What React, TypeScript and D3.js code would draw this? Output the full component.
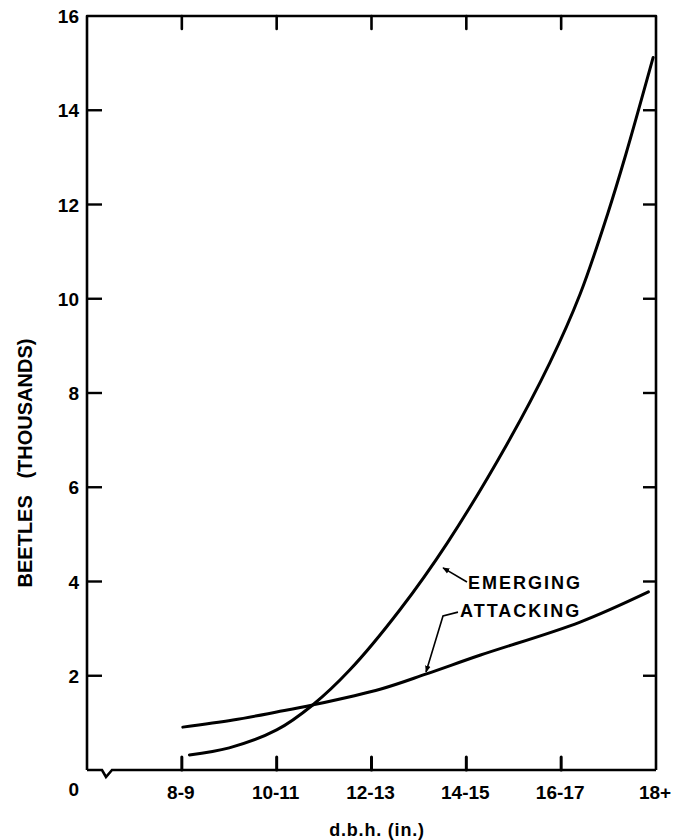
import React from "react";
import * as d3 from "d3";

// Category labels on the x axis (positions 1..6 in category units, 0 = left axis)
const categories = ["8-9", "10-11", "12-13", "14-15", "16-17", "18+"];
const categoryPos = [1, 2, 3, 4, 5, 6];
const yTicks = [2, 4, 6, 8, 10, 12, 14, 16];

// Emerging beetles (thousands)
const emergingX = [1.08, 1.5, 2.0, 2.38, 2.77, 3.3, 3.8, 4.43, 4.88, 5.2, 5.49, 5.68, 5.97];
const emergingY = [0.32, 0.47, 0.85, 1.38, 2.12, 3.4, 4.82, 6.92, 8.64, 10.1, 11.8, 13.05, 15.12];

// Attacking beetles (thousands)
const attackingX = [1.01, 1.54, 2.0, 2.38, 3.1, 3.58, 4.15, 5.2, 5.92];
const attackingY = [0.91, 1.06, 1.23, 1.38, 1.72, 2.04, 2.44, 3.14, 3.78];

// Annotation anchors (data units)
const emergingLeader = [[3.754, 4.29], [4.007, 3.99]];
const emergingLabelAt = [4.018, 3.84];
const attackingLeader = [[3.575, 2.08], [3.754, 3.27], [3.912, 3.35]];
const attackingLabelAt = [3.933, 3.25];

const FONT = "'Liberation Sans', Arial, Helvetica, sans-serif";

export default function App() {
  const W = 680, H = 840;
  const x = d3.scaleLinear().domain([0, 6]).range([87, 656]);
  const y = d3.scaleLinear().domain([0, 16]).range([770, 16]);
  const line = d3
    .line<number[]>()
    .x((d) => x(d[0]))
    .y((d) => y(d[1]))
    .curve(d3.curveCatmullRom.alpha(0.5));
  const straight = d3
    .line<number[]>()
    .x((d) => x(d[0]))
    .y((d) => y(d[1]));

  const emerging = emergingX.map((v, i) => [v, emergingY[i]]);
  const attacking = attackingX.map((v, i) => [v, attackingY[i]]);

  const x0 = x(0), x1 = x(6), y0 = y(0), y1 = y(16);
  const bottom = `M${x0},${y0} L${x0 + 15},${y0} L${x0 + 19},${y0 + 7} L${x0 + 25},${y0} L${x1},${y0}`;

  return (
    <svg
      width={W}
      height={H}
      viewBox={`0 0 ${W} ${H}`}
      style={{ position: "absolute", left: 0, top: 0, background: "#fff" }}
    >
      <defs>
        <marker id="ah" viewBox="0 0 10 10" refX="9" refY="5" markerWidth="7" markerHeight="7" orient="auto-start-reverse" markerUnits="userSpaceOnUse">
          <path d="M0,1 L10,5 L0,9 Z" fill="#000" />
        </marker>
      </defs>
      <rect x={0} y={0} width={W} height={H} fill="#fff" />
      {/* frame */}
      <path d={`M${x0},${y0} L${x0},${y1} L${x1},${y1} L${x1},${y0}`} fill="none" stroke="#000" strokeWidth={2.6} strokeLinejoin="round" />
      <path d={bottom} fill="none" stroke="#000" strokeWidth={2.6} strokeLinejoin="miter" />

      {/* left & right ticks */}
      {yTicks.filter((t) => t < 16).map((t) => (
        <g key={"yt" + t}>
          <line x1={x0} x2={x0 + 15} y1={y(t)} y2={y(t)} stroke="#000" strokeWidth={2.4} />
          <line x1={x1 - 13} x2={x1} y1={y(t)} y2={y(t)} stroke="#000" strokeWidth={2.4} />
        </g>
      ))}
      {/* top & bottom ticks */}
      {categoryPos.filter((c) => c < 6).map((c) => (
        <g key={"xt" + c}>
          <line x1={x(c)} x2={x(c)} y1={y0} y2={y0 - 13} stroke="#000" strokeWidth={3} strokeLinecap="round" />
          <line x1={x(c)} x2={x(c)} y1={y1} y2={y1 + 13} stroke="#000" strokeWidth={2.6} strokeLinecap="round" />
        </g>
      ))}

      {/* y tick labels */}
      {yTicks.map((t) => (
        <text key={"yl" + t} x={79} y={y(t) + 7} textAnchor="end" fontFamily={FONT} fontWeight={700} fontSize={19} fill="#000">
          {t}
        </text>
      ))}
      <text x={79} y={796} textAnchor="end" fontFamily={FONT} fontWeight={700} fontSize={19} fill="#000">0</text>

      {/* x tick labels */}
      {categories.map((c, i) => (
        <text key={c} x={x(categoryPos[i]) - 1} y={799} textAnchor="middle" fontFamily={FONT} fontWeight={700} fontSize={19} fill="#000">
          {c}
        </text>
      ))}

      {/* axis titles */}
      <text x={377} y={836} textAnchor="middle" fontFamily={FONT} fontWeight={700} fontSize={18} letterSpacing={0.8} fill="#000">
        d.b.h. (in.)
      </text>
      <text
        transform={`translate(32,463) rotate(-90)`}
        textAnchor="middle"
        fontFamily={FONT}
        fontWeight={700}
        fontSize={20}
        fill="#000"
        style={{ whiteSpace: "pre" }}
      >
        {"BEETLES   (THOUSANDS)"}
      </text>

      {/* curves */}
      <path d={line(emerging) || ""} fill="none" stroke="#000" strokeWidth={3} strokeLinecap="round" />
      <path d={line(attacking) || ""} fill="none" stroke="#000" strokeWidth={3} strokeLinecap="round" />

      {/* annotations */}
      <path d={straight([...emergingLeader].reverse()) || ""} fill="none" stroke="#000" strokeWidth={1.6} markerEnd="url(#ah)" />
      <path d={straight([...attackingLeader].reverse()) || ""} fill="none" stroke="#000" strokeWidth={1.6} markerEnd="url(#ah)" />
      <text x={x(emergingLabelAt[0])} y={y(emergingLabelAt[1])} fontFamily={FONT} fontWeight={700} fontSize={18} letterSpacing={2} fill="#000">
        EMERGING
      </text>
      <text x={x(attackingLabelAt[0])} y={y(attackingLabelAt[1])} fontFamily={FONT} fontWeight={700} fontSize={18} letterSpacing={2} fill="#000">
        ATTACKING
      </text>
    </svg>
  );
}
